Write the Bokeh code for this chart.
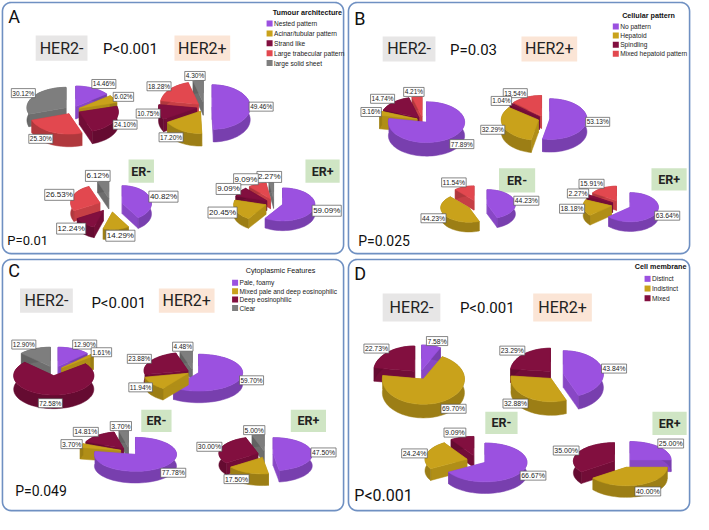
import numpy as np
from bokeh.plotting import figure
from bokeh.models import Range1d
from bokeh.embed import file_html
from bokeh.resources import INLINE
from bokeh.core.properties import value

# ---------------- data ----------------
groups = ["HER2-", "HER2+", "ER-", "ER+"]

a_title = "Tumour architecture"
a_cats = ["Nested pattern", "Acinar/tubular pattern", "Strand like",
          "Large trabecular pattern", "large solid sheet"]
a_her2_neg = [14.46, 6.02, 24.10, 25.30, 30.12]
a_her2_pos = [49.46, 17.20, 10.75, 18.28, 4.30]
a_er_neg = [40.82, 14.29, 12.24, 26.53, 6.12]
a_er_pos = [59.09, 20.45, 9.09, 9.09, 2.27]
a_p_her2 = "P<0.001"
a_p_er = "P=0.01"

b_title = "Cellular pattern"
b_cats = ["No pattern", "Hepatoid", "Spindling", "Mixed hepatoid pattern"]
b_her2_neg = [77.89, 3.16, 14.74, 4.21]
b_her2_pos = [53.13, 32.29, 1.04, 13.54]
b_er_neg = [44.23, 44.23, 0.0, 11.54]
b_er_pos = [63.64, 18.18, 2.27, 15.91]
b_p_her2 = "P=0.03"
b_p_er = "P=0.025"

c_title = "Cytoplasmic Features"
c_cats = ["Pale, foamy", "Mixed pale and deep eosinophilic",
          "Deep eosinophilic", "Clear"]
c_her2_neg = [12.90, 1.61, 72.58, 12.90]
c_her2_pos = [59.70, 11.94, 23.88, 4.48]
c_er_neg = [77.78, 3.70, 14.81, 3.70]
c_er_pos = [47.50, 17.50, 30.00, 5.00]
c_p_her2 = "P<0.001"
c_p_er = "P=0.049"

d_title = "Cell membrane"
d_cats = ["Distinct", "Indistinct", "Mixed"]
d_her2_neg = [7.58, 69.70, 22.73]
d_her2_pos = [43.84, 32.88, 23.29]
d_er_neg = [66.67, 24.24, 9.09]
d_er_pos = [25.00, 40.00, 35.00]
d_p_her2 = "P<0.001"
d_p_er = "P<0.001"

# ---------------- styles ----------------
PURPLE, GOLD, MAROON, RED, GREY = "#9B51E0", "#C9A21B", "#820F3F", "#E2484F", "#7E7E7E"
a_colors = [PURPLE, GOLD, MAROON, RED, GREY]
b_colors = [PURPLE, GOLD, MAROON, RED]
c_colors = [PURPLE, GOLD, MAROON, GREY]
d_colors = [PURPLE, GOLD, MAROON]

BIG = value("Roboto")
SMALL = value("Liberation Sans")


def darker(h, f=0.78):
    h = h.lstrip("#")
    r, g, b = (int(h[i:i + 2], 16) for i in (0, 2, 4))
    return "#%02x%02x%02x" % (int(r * f), int(g * f), int(b * f))


p = figure(width=693, height=514, x_range=Range1d(0, 709), y_range=Range1d(530, 0),
           output_backend="svg", toolbar_location=None, min_border=0,
           x_axis_type=None, y_axis_type=None)
p.grid.visible = False
p.outline_line_color = None
p.background_fill_color = "white"


def rounded_rect(x0, y0, x1, y1, r):
    xs, ys = [], []
    for (cx, cy, a0) in [(x1 - r, y0 + r, -90), (x1 - r, y1 - r, 0),
                         (x0 + r, y1 - r, 90), (x0 + r, y0 + r, 180)]:
        t = np.radians(np.linspace(a0, a0 + 90, 8))
        xs += list(cx + r * np.cos(t))
        ys += list(cy + r * np.sin(t))
    xs.append(xs[0]); ys.append(ys[0])
    return xs, ys


def draw_pie(vals, colors, cx, cy, rx, ry, depth, ex, fs):
    vals = np.asarray(vals, float)
    fr = np.concatenate([[0], np.cumsum(vals)]) / vals.sum()
    k = ry / rx
    items = []
    for i, v in enumerate(vals):
        if v <= 0:
            continue
        a0, a1 = 2 * np.pi * fr[i], 2 * np.pi * fr[i + 1]
        mid = (a0 + a1) / 2
        ox = cx + ex * np.sin(mid)
        oy = cy - ex * k * np.cos(mid)
        n = max(4, int(90 * (a1 - a0) / (2 * np.pi)) + 3)
        t = np.linspace(a0, a1, n)
        axs = ox + rx * np.sin(t)
        ays = oy - ry * np.cos(t)
        items.append((-np.cos(mid), i, ox, oy, axs, ays, mid, v))
    items.sort(key=lambda it: it[0])
    XS, YS, FC = [], [], []
    for _, i, ox, oy, axs, ays, mid, v in items:
        wc = darker(colors[i])
        fc = darker(colors[i], 0.88)
        for j in (0, -1):
            XS.append([ox, axs[j], axs[j], ox])
            YS.append([oy, ays[j], ays[j] + depth, oy + depth])
            FC.append(fc)
        XS.append(list(axs) + list(axs[::-1]))
        YS.append(list(ays) + list(ays[::-1] + depth))
        FC.append(wc)
        XS.append([ox] + list(axs))
        YS.append([oy] + list(ays))
        FC.append(colors[i])
    p.patches(XS, YS, fill_color=FC, line_color=FC, line_width=0.5)
    # labels, placed just outside the slice's outer edge
    fpx = float(fs.replace("px", ""))
    lx, ly, lt = [], [], []
    for _, i, ox, oy, axs, ays, mid, v in items:
        s, c = np.sin(mid), np.cos(mid)
        txt = "%.2f%%" % v
        w = len(txt) * 0.56 * fpx + 3
        h = fpx + 3
        x = ox + rx * s + np.sign(s) * (w / 2) * min(1.0, 2.5 * abs(s)) * 0.9
        ey = oy - ry * c
        if c > 0:
            y = ey - c * h / 2
        else:
            y = ey + (-c) * depth * 0.6
        lx.append(x); ly.append(y); lt.append(txt)
    p.text(lx, ly, text=lt, text_align="center", text_baseline="middle",
           text_font=SMALL, text_font_size=fs, text_color="#222222",
           background_fill_color="white", border_line_color="#555555",
           border_line_width=0.7, padding=1)


def panel(ox, oy, letter, title, title_bold, cats, colors, series, pies, boxes,
          p_her2, p_her2_xy, p_er, p_er_xy, p_er_fs, leg, fs_list, letter_y):
    xs, ys = rounded_rect(ox + 2, oy + 2, ox + 351, oy + 261, 9)
    p.line(xs, ys, line_color="#6F90C2", line_width=1.6)
    p.text([ox + 8], [oy + letter_y], text=[letter], text_font=BIG, text_font_size="18px",
           text_baseline="middle", text_color="#111111")
    fills = ["#E7E6E6", "#FBE5D6", "#CFE5C4", "#CFE5C4"]
    bx = [ox + b[0] for b in boxes]
    by = [oy + b[1] for b in boxes]
    bw = [b[2] for b in boxes]
    bh = [b[3] for b in boxes]
    p.rect(bx, by, bw, bh, fill_color=fills, line_color=None)
    p.text(bx[:2], by[:2], text=groups[:2], text_align="center", text_baseline="middle",
           text_font=BIG, text_font_size="16px", text_color="#222222")
    p.text(bx[2:], by[2:], text=groups[2:], text_align="center", text_baseline="middle",
           text_font=BIG, text_font_size="12.5px", text_font_style="bold", text_color="#222222")
    p.text([ox + p_her2_xy[0]], [oy + p_her2_xy[1]], text=[p_her2], text_align="center",
           text_baseline="middle", text_font=BIG, text_font_size="15px", text_color="#111111")
    p.text([ox + p_er_xy[0]], [oy + p_er_xy[1]], text=[p_er], text_align="left",
           text_baseline="middle", text_font=BIG, text_font_size=p_er_fs, text_color="#111111")
    lx, ly0, dy, tx, ty, tfs = leg
    p.text([ox + tx], [oy + ty], text=[title], text_baseline="middle", text_font=SMALL,
           text_font_size=tfs, text_font_style="bold" if title_bold else "normal",
           text_color="#111111")
    yy = [oy + ly0 + j * dy for j in range(len(cats))]
    p.scatter([ox + lx] * len(cats), yy, marker="square", size=6, fill_color=colors,
              line_color=None)
    p.text([ox + lx + 4.5] * len(cats), yy, text=cats, text_baseline="middle",
           text_font=SMALL, text_font_size="6.6px", text_color="#222222")
    for vals, pp, fs in zip(series, pies, fs_list):
        cx, cy, rx, ry, d, e = pp
        draw_pie(vals, colors, ox + cx, oy + cy, rx, ry, d, e, fs)


# Panel A
panel(0, 0, "A", a_title, True, a_cats, a_colors,
      [a_her2_neg, a_her2_pos, a_er_neg, a_er_pos],
      [(73.5, 113, 40, 21, 13, 8), (208.5, 110, 39, 23, 13, 8),
       (113, 211, 30, 18, 11, 12), (280, 209, 33, 17, 10, 9)],
      [(62.5, 49, 53, 26), (206.5, 49, 57, 26), (144, 176, 26, 24), (329.5, 176, 35, 24)],
      a_p_her2, (133, 50), a_p_er, (7, 247), "13px",
      (275.3, 23.7, 10.2, 278.5, 12, "7.2px"),
      ["6.5px", "6.5px", "8px", "8px"], 16.5)

# Panel B
panel(354, 0, "B", b_title, True, b_cats, b_colors,
      [b_her2_neg, b_her2_pos, b_er_neg, b_er_pos],
      [(78, 123, 39, 21, 14, 6), (202, 122, 38, 21, 13, 6),
       (134, 211, 29, 15, 10, 10), (281, 211, 29, 15, 10, 10)],
      [(64, 50, 54, 26), (207.5, 50, 57, 26), (174.5, 185.5, 37, 25), (330, 184.5, 36, 23)],
      b_p_her2, (130, 51), b_p_er, (12, 248), "14px",
      (275.5, 26.7, 9.4, 282, 15, "7.2px"),
      ["6.5px", "6.5px", "6.8px", "6.8px"], 19)

# Panel C
panel(0, 265, "C", c_title, False, c_cats, c_colors,
      [c_her2_neg, c_her2_pos, c_er_neg, c_er_pos],
      [(55, 117, 41, 20, 14, 10), (197, 118, 45, 19, 12, 6),
       (132, 200, 42, 17.5, 12, 9.5), (271, 203, 40, 17, 12, 8)],
      [(47, 44.5, 54, 25), (190.5, 44.5, 57, 25), (159.5, 168.5, 31, 23), (315, 168.5, 36, 23)],
      c_p_her2, (121, 47), c_p_er, (15, 241), "14px",
      (240, 26, 8.7, 251, 13, "7.2px"),
      ["6.5px", "6.5px", "6.8px", "6.8px"], 13)

# Panel D
panel(354, 265, "D", d_title, True, d_cats, d_colors,
      [d_her2_neg, d_her2_pos, d_er_neg, d_er_pos],
      [(75, 121, 42, 26, 14, 8), (214, 121, 41, 24, 14, 8),
       (133, 209, 43, 20, 12, 10), (283, 212, 42, 19, 12, 10)],
      [(66.5, 51.5, 59, 29), (221, 51.5, 60, 29), (158.5, 170.5, 33, 23), (330.5, 171, 35, 24)],
      d_p_her2, (144, 52), d_p_er, (8, 245), "16px",
      (308, 22, 10, 295, 9, "7.2px"),
      ["6.8px", "6.8px", "7px", "7px"], 16)

open("out.html", "w").write(file_html(p, INLINE))
